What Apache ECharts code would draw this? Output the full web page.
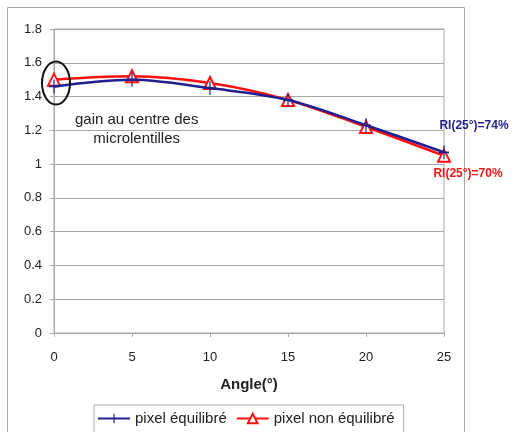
<!DOCTYPE html>
<html>
<head>
<meta charset="utf-8">
<script src="https://cdn.jsdelivr.net/npm/echarts@6/dist/echarts.min.js"></script>
<style>
  html, body { margin: 0; padding: 0; background: #fff; }
  #chart { width: 512px; height: 432px; }
</style>
</head>
<body>
<div id="chart"></div>
<script>
// angles (deg) and gain values
var angles = [0, 5, 10, 15, 20, 25];
var equilibre = [1.46, 1.50, 1.45, 1.38, 1.23, 1.07];
var nonEquilibre = [1.50, 1.52, 1.48, 1.38, 1.22, 1.05];
var yTicks = [0, 0.2, 0.4, 0.6, 0.8, 1, 1.2, 1.4, 1.6, 1.8];
var noteLines = ['gain au centre des', 'microlentilles'];
var endLabels = ['RI(25°)=74%', 'RI(25°)=70%'];

var font = 'Liberation Sans, Arial, sans-serif';
var blue = '#1f1f8f';
var red = '#ff1010';
var plusPath = 'path://M4.4,0H5.6V4.4H10V5.6H5.6V10H4.4V5.6H0V4.4H4.4Z';

function pairs(vals) {
  var out = [];
  for (var i = 0; i < vals.length; i++) {
    out.push([angles[i], vals[i]]);
  }
  return out;
}

var blueData = pairs(equilibre);
blueData[blueData.length - 1] = {
  value: blueData[blueData.length - 1],
  label: { show: true, formatter: endLabels[0], position: 'top', offset: [30, -9],
    color: blue, fontWeight: 'bold', fontSize: 12, fontFamily: font }
};
var redData = pairs(nonEquilibre);
redData[redData.length - 1] = {
  value: redData[redData.length - 1],
  label: { show: true, formatter: endLabels[1], position: 'bottom', offset: [24, 0],
    color: red, fontWeight: 'bold', fontSize: 12, fontFamily: font }
};

var myChart = echarts.init(document.getElementById('chart'));

var option = {
  animation: false,
  backgroundColor: '#fff',
  textStyle: { fontFamily: font },
  grid: {
    left: 54, right: 68, top: 29, bottom: 99,
    show: true, borderColor: '#a8a8a8', borderWidth: 1
  },
  legend: {
    left: 94, top: 405,
    padding: [6, 9, 10, 3],
    borderColor: '#a8a8a8', borderWidth: 1,
    itemWidth: 32, itemHeight: 12, itemGap: 9,
    textStyle: { fontSize: 15, color: '#222', fontFamily: font },
    data: ['pixel équilibré', 'pixel non équilibré']
  },
  xAxis: {
    type: 'value', min: 0, max: 25, interval: 5,
    name: 'Angle(°)', nameLocation: 'middle', nameGap: 44,
    nameTextStyle: { fontSize: 15, fontWeight: 'bold', color: '#222', fontFamily: font },
    axisLine: { lineStyle: { color: '#a8a8a8' } },
    axisTick: { show: true, length: 4, lineStyle: { color: '#a8a8a8' } },
    axisLabel: { fontSize: 13, color: '#222', margin: 18, fontFamily: font },
    splitLine: { show: false }
  },
  yAxis: {
    type: 'value', min: 0, max: 1.8, interval: 0.2,
    axisLine: { show: true, lineStyle: { color: '#a8a8a8' } },
    axisTick: { show: true, length: 4, lineStyle: { color: '#a8a8a8' } },
    axisLabel: {
      fontSize: 13, color: '#222', margin: 12, fontFamily: font,
      formatter: function (v) {
        for (var i = 0; i < yTicks.length; i++) {
          if (Math.abs(yTicks[i] - v) < 1e-6) return String(yTicks[i]);
        }
        return '';
      }
    },
    splitLine: { lineStyle: { color: '#a8a8a8', width: 1 } }
  },
  series: [{
    name: 'pixel équilibré',
    type: 'line',
    smooth: 0.35,
    data: blueData,
    symbol: plusPath,
    symbolSize: [10, 14],
    lineStyle: { color: blue, width: 2.5 },
    itemStyle: { color: blue },
    z: 3
  }, {
    name: 'pixel non équilibré',
    type: 'line',
    smooth: 0.35,
    data: redData,
    symbol: 'emptyTriangle',
    symbolSize: 12,
    lineStyle: { color: red, width: 2.5 },
    itemStyle: { color: red, borderWidth: 1 },
    z: 2
  }]
};

myChart.setOption(option);

// annotation: ellipse around the 0 deg points, note text, outer frame
var c = myChart.convertToPixel({ gridIndex: 0 }, [angles[0], 1.48]);
var noteX = myChart.convertToPixel({ gridIndex: 0 }, [5.3, 0])[0];
var noteY = myChart.convertToPixel({ gridIndex: 0 }, [0, 1.205])[1];

myChart.setOption({
  graphic: [{
    type: 'rect',
    shape: { x: 7.5, y: 7.5, width: 457, height: 440 },
    style: { fill: null, stroke: '#a8a8a8', lineWidth: 1 },
    silent: true
  }, {
    type: 'ellipse',
    shape: { cx: c[0] + 2, cy: c[1], rx: 14, ry: 21.5 },
    style: { fill: null, stroke: '#111', lineWidth: 2 },
    z: 10
  }, {
    type: 'text',
    x: noteX, y: noteY,
    style: {
      text: noteLines.join('\n'), fill: '#222', font: '15px ' + font,
      align: 'center', verticalAlign: 'middle', lineHeight: 19
    },
    z: 10
  }]
});
</script>
</body>
</html>
